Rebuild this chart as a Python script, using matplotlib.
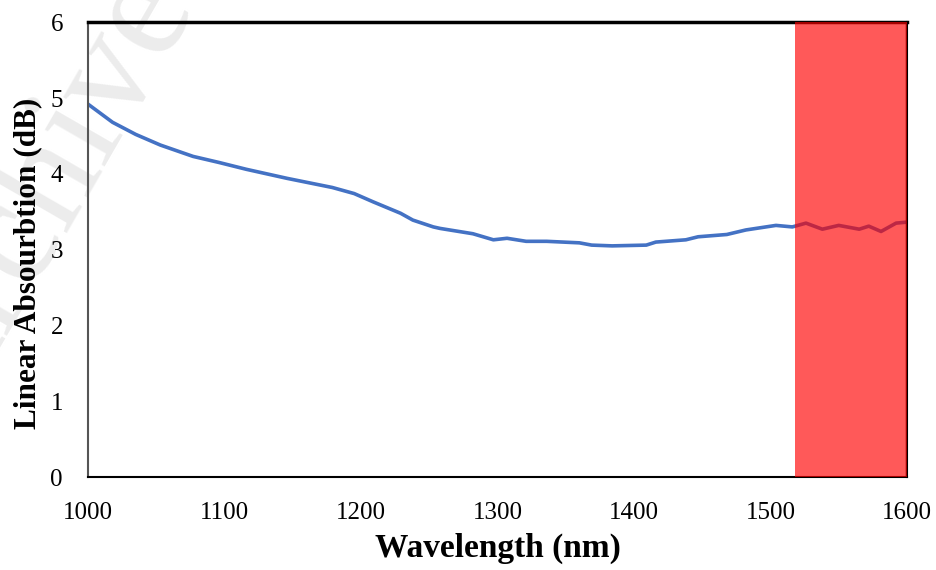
import matplotlib
matplotlib.use('Agg')
import matplotlib.pyplot as plt

# Values
wavelength = [1000, 1018, 1035, 1053, 1077, 1096, 1116, 1146, 1179, 1195, 1209,
              1229, 1238, 1253, 1258, 1282, 1297, 1307, 1321, 1336, 1360, 1369,
              1384, 1409, 1416, 1438, 1447, 1468, 1482, 1504, 1516, 1526, 1538,
              1550, 1565, 1572, 1581, 1592, 1598]
absorption = [4.92, 4.68, 4.52, 4.38, 4.23, 4.15, 4.06, 3.94, 3.82, 3.74, 3.63,
              3.48, 3.39, 3.30, 3.28, 3.21, 3.13, 3.15, 3.11, 3.11, 3.09, 3.06,
              3.05, 3.06, 3.10, 3.13, 3.17, 3.20, 3.26, 3.32, 3.30, 3.35, 3.27,
              3.32, 3.27, 3.31, 3.24, 3.35, 3.36]
band_start, band_end = 1518, 1600
x_ticks = [1000, 1100, 1200, 1300, 1400, 1500, 1600]
y_ticks = [0, 1, 2, 3, 4, 5, 6]

serif = ['Liberation Serif', 'DejaVu Serif']
plt.rcParams['font.family'] = serif
plt.rcParams['xtick.labelsize'] = 18
plt.rcParams['ytick.labelsize'] = 18

fig = plt.figure(figsize=(9.36, 5.70), dpi=100)
ax = fig.add_axes([0.094, 0.163, 0.875, 0.798])
ax.set_zorder(2)

# faint watermark fragment, behind everything
fig.text(0.21, 0.99, 'Archive', rotation=60, rotation_mode='anchor',
         fontsize=110, color='#ececec', ha='right', va='baseline', zorder=-5)

ax.plot(wavelength, absorption, color='#4472c4', lw=2.6, zorder=2)
ax.axvspan(band_start, band_end, color='red', alpha=0.65, lw=0, zorder=3)
ax.axvline(band_end, color='#9b0000', lw=2.5, zorder=4)

ax.set_xlim(1000, 1600)
ax.set_ylim(0, 6)
ax.set_xticks(x_ticks)
ax.set_yticks(y_ticks)
ax.patch.set_alpha(0)
ax.tick_params(length=0, pad=18)

for side in ['top', 'bottom', 'left', 'right']:
    ax.spines[side].set_color('black')
ax.spines['top'].set_linewidth(2.5)
ax.spines['bottom'].set_linewidth(1.5)
ax.spines['left'].set_linewidth(1.5)
ax.spines['left'].set_color('#555555')
ax.spines['right'].set_linewidth(1.5)

ax.set_xlabel('Wavelength (nm)', fontsize=24, fontweight='bold', labelpad=6)
ax.set_ylabel('Linear Absourbtion (dB)', fontsize=22.5, fontweight='bold')
ax.yaxis.set_label_coords(-0.056, 0.47)

fig.savefig('out.png', dpi=100)
